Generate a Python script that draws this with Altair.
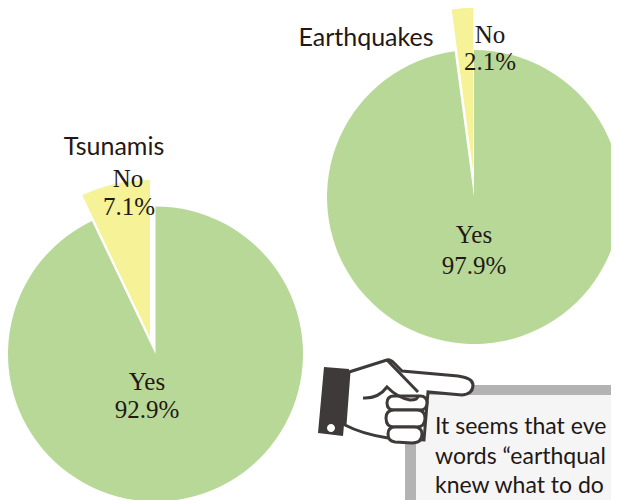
import math
import altair as alt
import pandas as pd

panels = ["Tsunamis", "Earthquakes"]
yes_values = [92.9, 97.9]
no_values = [7.1, 2.1]
GREEN, YELLOW, INK = "#b8d898", "#f5f298", "#231815"
HAND_DARK = "#3e3a39"

OX, OY = -8, -8  # page px -> chart px
px = lambda v: v + OX
py = lambda v: v + OY

theta_scale = alt.Scale(domain=[0, 100], range=[0, 2 * math.pi])


def slice_layer(start, end, color, cx, cy, r):
    df = pd.DataFrame({"start": [start], "end": [end]})
    return alt.Chart(df).mark_arc(radius=r, color=color, opacity=1).encode(
        theta=alt.Theta("start:Q", scale=theta_scale),
        theta2="end:Q",
        x=alt.value(px(cx)),
        y=alt.value(py(cy)),
    )


def text_layer(s, cx, cy, font, size, align="center", color=INK):
    df = pd.DataFrame({"t": [s]})
    return alt.Chart(df).mark_text(font=font, fontSize=size, align=align, baseline="middle", color=color).encode(
        text="t:N", x=alt.value(px(cx)), y=alt.value(py(cy))
    )


def shape_layer(path, fill, stroke=None, sw=0):
    df = pd.DataFrame({"a": [0]})
    kw = dict(shape=path, size=4, filled=True, fill=fill, opacity=1, fillOpacity=1)
    if stroke:
        kw.update(stroke=stroke, strokeWidth=sw, strokeOpacity=1)
    return alt.Chart(df).mark_point(**kw).encode(x=alt.value(OX), y=alt.value(OY))


def box_layer(x1, y1, x2, y2, color):
    df = pd.DataFrame({"a": [0]})
    return alt.Chart(df).mark_rect(color=color, opacity=1).encode(
        x=alt.value(px(x1)), x2=alt.value(px(x2)), y=alt.value(py(y1)), y2=alt.value(py(y2))
    )


SERIF = "Liberation Serif"
SANS = "Lato"

layers = [
    slice_layer(0, yes_values[0], GREEN, 155.5, 354, 147.5),
    slice_layer(yes_values[0], 100, YELLOW, 150, 337, 157),
    slice_layer(0, yes_values[1], GREEN, 474, 197, 147),
    slice_layer(yes_values[1], 100, YELLOW, 473, 170, 162),
    text_layer(panels[0], 114, 147, SANS, 25),
    text_layer(panels[1], 366, 38, SANS, 25),
    text_layer("Yes", 147, 382, SERIF, 25),
    text_layer(f"{yes_values[0]}%", 147, 410, SERIF, 25),
    text_layer("No", 128, 179, SERIF, 25),
    text_layer(f"{no_values[0]}%", 129, 207, SERIF, 25),
    text_layer("Yes", 474, 235, SERIF, 25),
    text_layer(f"{yes_values[1]}%", 474, 266, SERIF, 25),
    text_layer("No", 490, 35, SERIF, 25),
    text_layer(f"{no_values[1]}%", 490, 62, SERIF, 25),
    box_layer(405, 385, 640, 520, "#b3b3b3"),
    box_layer(416, 395, 640, 520, "#f5f5f5"),
    text_layer("It seems that eve", 435, 427, SANS, 23, "left"),
    text_layer("words “earthqual", 435, 457, SANS, 23, "left"),
    text_layer("knew what to do", 435, 486, SANS, 23, "left"),
    shape_layer("M324 367L349 369L343 436L318 433Z", HAND_DARK),
    shape_layer("M327 428A4 4 0 1 0 335 428A4 4 0 1 0 327 428Z", "#ffffff"),
    shape_layer("M349 372L387 360Q390 359 394 363L402 371L458 376Q473 378 473 385Q473 394 462 395L428 392"
                "L424 440L388 438Q362 434 345 425Z", "#ffffff", HAND_DARK, 3),
    shape_layer("M387 360L418 392", "none", HAND_DARK, 3),
    shape_layer("M394 396L420 396Q427 396 427 403Q427 410 420 410L394 410Q387 410 387 403Q387 396 394 396Z",
                "#ffffff", HAND_DARK, 3),
    shape_layer("M394 410L417 410Q425 410 425 418Q425 427 417 427L394 427Q386 427 386 418Q386 410 394 410Z",
                "#ffffff", HAND_DARK, 3),
    shape_layer("M395 427L414 427Q422 427 422 434Q422 443 412 443L395 442Q388 441 388 434Q388 427 395 427Z",
                "#ffffff", HAND_DARK, 3),
    shape_layer("M363 398Q378 399 387 387Q398 398 410 400Q418 400 418 396", "none", HAND_DARK, 3),
]

chart = alt.layer(*layers).properties(
    width=603,
    height=492,
    padding=0,
    autosize=alt.AutoSizeParams(type="none"),
).configure_view(stroke=None)

chart.save("out.html", embed_options={"renderer": "svg", "actions": False})
